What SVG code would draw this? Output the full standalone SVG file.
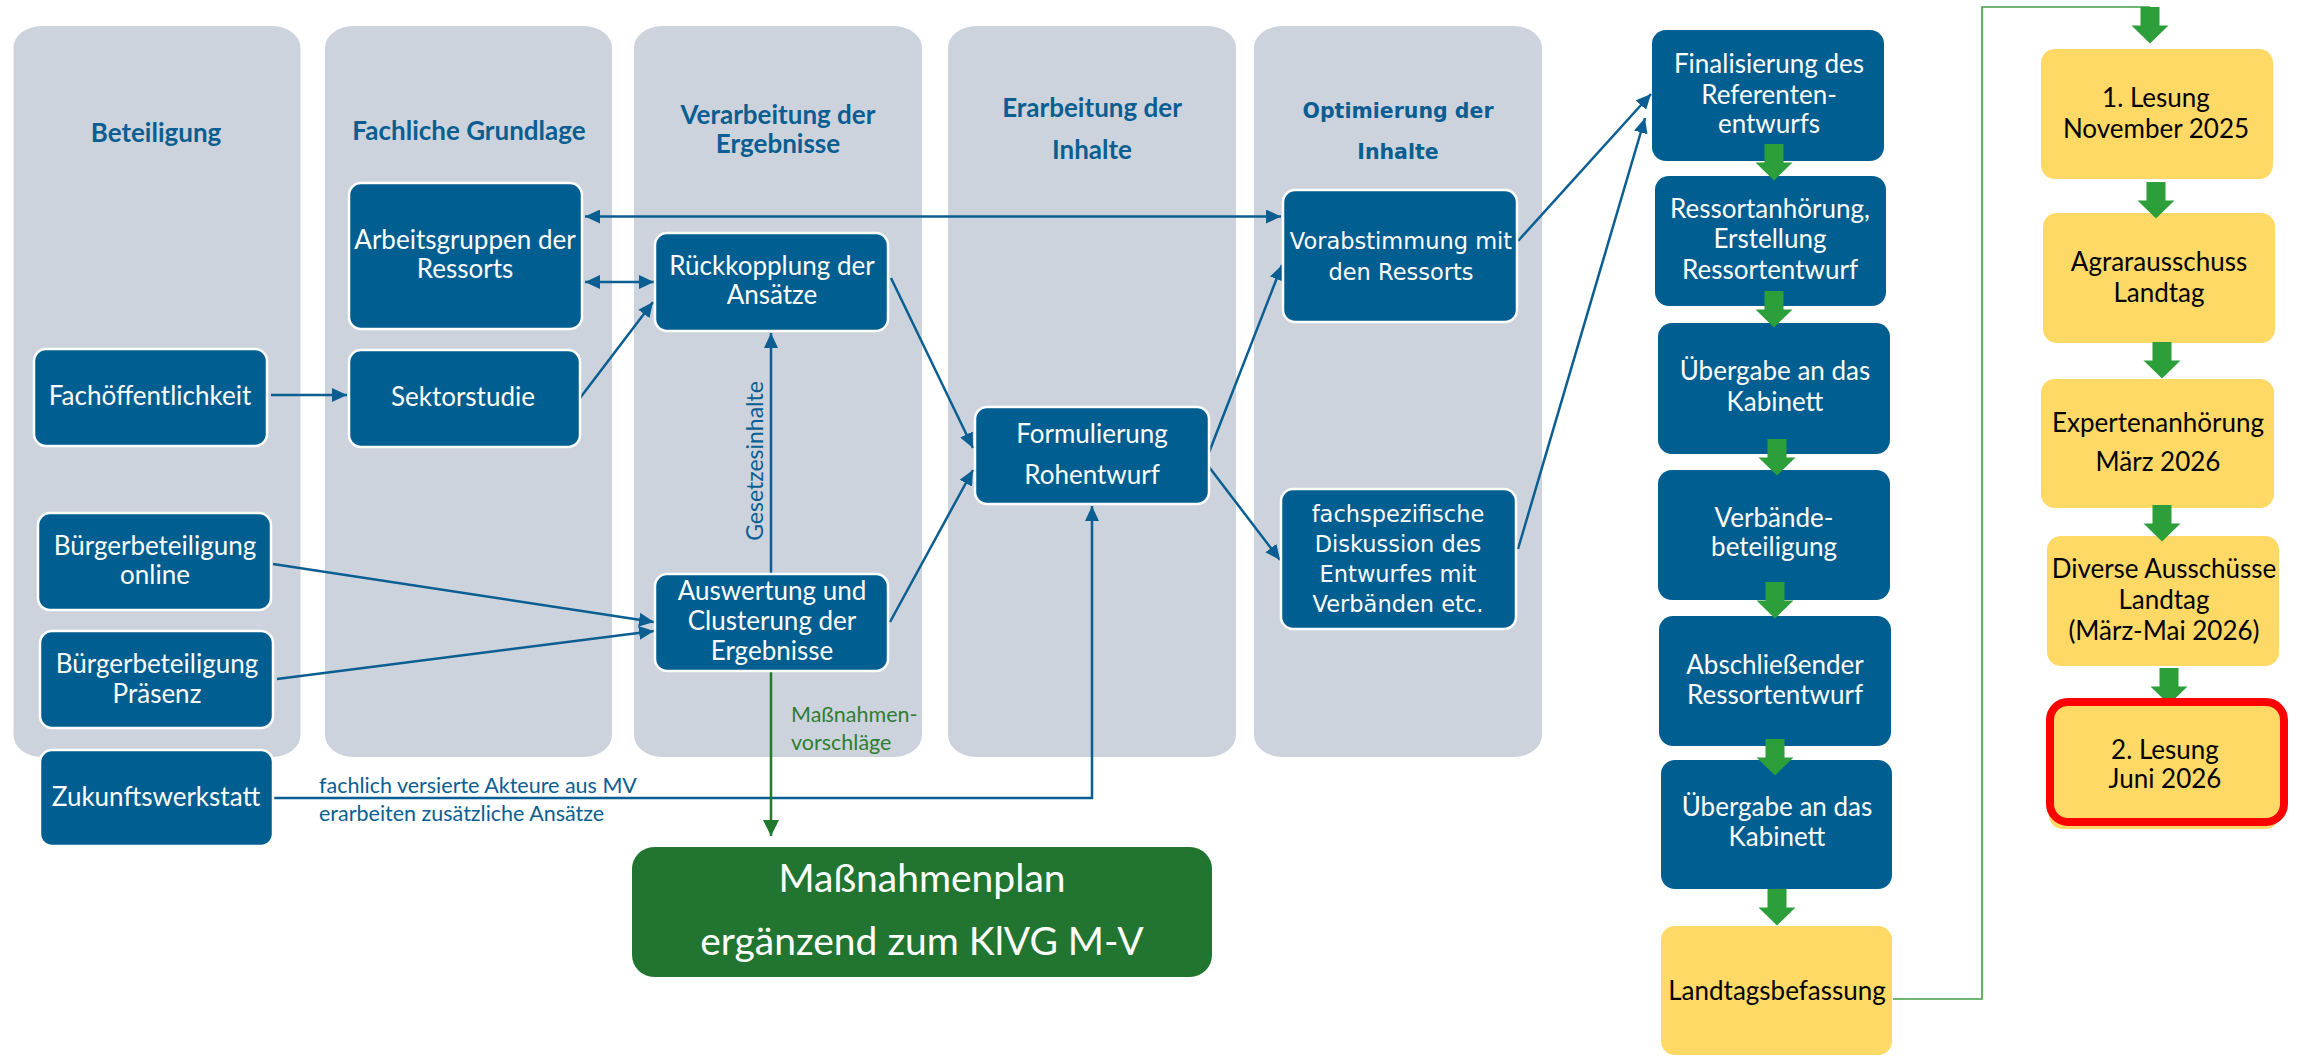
<svg xmlns="http://www.w3.org/2000/svg" width="2298" height="1059" viewBox="0 0 2298 1059">
<style>
.lane{fill:#CDD3DD}
.title{font-family:Lato,"Liberation Sans",sans-serif;font-weight:700;font-size:26px;fill:#0B5E91;text-anchor:middle}
.title2{font-family:"DejaVu Sans",sans-serif;font-weight:700;font-size:20.5px;fill:#0B5E91;text-anchor:middle}
.box{fill:#015E91;stroke:#fff;stroke-width:2.5}
.box2{fill:#015E91}
.yel{fill:#FFD966}
.t{font-family:Lato,"Liberation Sans",sans-serif;font-size:26px;fill:#fff;text-anchor:middle}
.tv{font-family:"DejaVu Sans",sans-serif;font-size:22.5px;fill:#fff;text-anchor:middle}
.tk{font-family:Lato,"Liberation Sans",sans-serif;font-size:26px;fill:#000;text-anchor:middle}
.big{font-family:Lato,"Liberation Sans",sans-serif;font-size:39px;fill:#fff;text-anchor:middle}
.conn{stroke:#0B5E91;stroke-width:2.5;fill:none}
.gconn{stroke:#217A2C;stroke-width:2.5;fill:none}
.thin{stroke:#3DA046;stroke-width:1.6;fill:none}
.lbl{font-family:Lato,"Liberation Sans",sans-serif;font-size:21.5px;fill:#0B5E91}
.glbl{font-family:Lato,"Liberation Sans",sans-serif;font-size:21.5px;fill:#2E7D32}
.blk{fill:#2C9E3A}
</style>
<defs>
<marker id="ah" viewBox="0 0 10 10" refX="10" refY="5" markerWidth="15" markerHeight="14" markerUnits="userSpaceOnUse" orient="auto-start-reverse" preserveAspectRatio="none"><path d="M0,0 L10,5 L0,10 z" fill="#0B5E91"/></marker>
<marker id="gh" viewBox="0 0 10 10" refX="10" refY="5" markerWidth="16" markerHeight="16" markerUnits="userSpaceOnUse" orient="auto" preserveAspectRatio="none"><path d="M0,0 L10,5 L0,10 z" fill="#217A2C"/></marker>
<path id="barrow" d="M-9.5,0 H9.5 V18.5 H18.5 L0,36.5 L-18.5,18.5 H-9.5 Z"/>
</defs>

<g id="lanes">
<rect class="lane" x="13.5" y="26" width="287" height="731" rx="28" ry="22"/>
<rect class="lane" x="325" y="26" width="287" height="731" rx="28" ry="22"/>
<rect class="lane" x="634" y="26" width="288" height="731" rx="28" ry="22"/>
<rect class="lane" x="948" y="26" width="288" height="731" rx="28" ry="22"/>
<rect class="lane" x="1254" y="26" width="288" height="731" rx="28" ry="22"/>
<text class="title" x="156" y="142">Beteiligung</text>
<text class="title" x="469" y="140">Fachliche Grundlage</text>
<text class="title" x="778" y="124">Verarbeitung der</text>
<text class="title" x="778" y="153">Ergebnisse</text>
<text class="title" x="1092" y="117">Erarbeitung der</text>
<text class="title" x="1092" y="159">Inhalte</text>
<text class="title2" x="1398" y="118">Optimierung der</text>
<text class="title2" x="1398" y="159">Inhalte</text>
</g>

<g id="connectors">
<line class="conn" x1="585" y1="216.5" x2="1281" y2="216.5" marker-start="url(#ah)" marker-end="url(#ah)"/>
<line class="conn" x1="585" y1="282" x2="654" y2="282" marker-start="url(#ah)" marker-end="url(#ah)"/>
<line class="conn" x1="271" y1="395" x2="347" y2="395" marker-end="url(#ah)"/>
<line class="conn" x1="580" y1="398" x2="653" y2="302" marker-end="url(#ah)"/>
<line class="conn" x1="273" y1="564" x2="654" y2="622" marker-end="url(#ah)"/>
<line class="conn" x1="277" y1="679" x2="654" y2="631" marker-end="url(#ah)"/>
<line class="conn" x1="771" y1="573" x2="771" y2="333" marker-end="url(#ah)"/>
<text class="lbl" transform="translate(763,461) rotate(-90)" text-anchor="middle" style="font-size:23px">Gesetzesinhalte</text>
<line class="conn" x1="891" y1="278" x2="973" y2="448" marker-end="url(#ah)"/>
<line class="conn" x1="890" y1="622" x2="973" y2="470" marker-end="url(#ah)"/>
<line class="conn" x1="1208" y1="455" x2="1282" y2="265" marker-end="url(#ah)"/>
<line class="conn" x1="1209" y1="467" x2="1280" y2="560" marker-end="url(#ah)"/>
<line class="conn" x1="1518" y1="241" x2="1651" y2="94" marker-end="url(#ah)"/>
<line class="conn" x1="1518" y1="549" x2="1645" y2="118" marker-end="url(#ah)"/>
<polyline class="conn" points="272,798 1092,798 1092,506" marker-end="url(#ah)"/>
<text class="lbl" x="319" y="793">fachlich versierte Akteure aus MV</text>
<text class="lbl" x="319" y="821">erarbeiten zusätzliche Ansätze</text>
<line class="gconn" x1="771" y1="672" x2="771" y2="836" marker-end="url(#gh)"/>
<text class="glbl" x="791" y="722">Maßnahmen-</text>
<text class="glbl" x="791" y="750">vorschläge</text>
<polyline class="thin" points="1893,999 1982,999 1982,7 2150,7"/>
</g>

<g id="n-arbeitsgruppen"><rect class="box" x="349" y="183" width="233" height="146" rx="12"/><text class="t" x="465" y="249">Arbeitsgruppen der</text><text class="t" x="465" y="278">Ressorts</text></g>
<g id="n-fachoeffentlichkeit"><rect class="box" x="34" y="349" width="233" height="97" rx="12"/><text class="t" x="150" y="405">Fachöffentlichkeit</text></g>
<g id="n-sektorstudie"><rect class="box" x="349" y="350" width="231" height="97" rx="12"/><text class="t" x="463" y="406">Sektorstudie</text></g>
<g id="n-online"><rect class="box" x="38" y="513" width="233" height="97" rx="12"/><text class="t" x="155" y="555">Bürgerbeteiligung</text><text class="t" x="155" y="584">online</text></g>
<g id="n-praesenz"><rect class="box" x="40" y="631" width="233" height="97" rx="12"/><text class="t" x="157" y="673">Bürgerbeteiligung</text><text class="t" x="157" y="703">Präsenz</text></g>
<g id="n-zukunft"><rect class="box" x="40" y="750" width="233" height="96" rx="12"/><text class="t" x="156" y="806">Zukunftswerkstatt</text></g>
<g id="n-rueckkopplung"><rect class="box" x="655" y="233" width="233" height="98" rx="12"/><text class="t" x="772" y="275">Rückkopplung der</text><text class="t" x="772" y="304">Ansätze</text></g>
<g id="n-auswertung"><rect class="box" x="655" y="574" width="233" height="97" rx="12"/><text class="t" x="772" y="600">Auswertung und</text><text class="t" x="772" y="630">Clusterung der</text><text class="t" x="772" y="660">Ergebnisse</text></g>
<g id="n-formulierung"><rect class="box" x="975" y="407" width="234" height="97" rx="12"/><text class="t" x="1092" y="443">Formulierung</text><text class="t" x="1092" y="484">Rohentwurf</text></g>
<g id="n-vorabstimmung"><rect class="box" x="1283" y="190" width="234" height="132" rx="12"/><text class="tv" x="1401" y="249">Vorabstimmung mit</text><text class="tv" x="1401" y="280">den Ressorts</text></g>
<g id="n-fachspezifisch"><rect class="box" x="1281" y="489" width="235" height="140" rx="12"/><text class="tv" x="1398" y="522">fachspezifische</text><text class="tv" x="1398" y="552">Diskussion des</text><text class="tv" x="1398" y="582">Entwurfes mit</text><text class="tv" x="1398" y="612">Verbänden etc.</text></g>
<g id="n-massnahmenplan"><rect x="632" y="847" width="580" height="130" rx="22" fill="#217530"/><text class="big" x="922" y="892">Maßnahmenplan</text><text class="big" x="922" y="955">ergänzend zum KlVG M-V</text></g>

<g id="n-finalisierung"><rect class="box2" x="1652" y="30" width="232" height="131" rx="14"/><text class="t" x="1769" y="73">Finalisierung des</text><text class="t" x="1769" y="104">Referenten-</text><text class="t" x="1769" y="133">entwurfs</text></g>
<g id="n-ressortanhoerung"><rect class="box2" x="1655" y="176" width="231" height="130" rx="14"/><text class="t" x="1770" y="218">Ressortanhörung,</text><text class="t" x="1770" y="248">Erstellung</text><text class="t" x="1770" y="279">Ressortentwurf</text></g>
<g id="n-uebergabe1"><rect class="box2" x="1658" y="323" width="232" height="131" rx="14"/><text class="t" x="1775" y="380">Übergabe an das</text><text class="t" x="1775" y="411">Kabinett</text></g>
<g id="n-verbaende"><rect class="box2" x="1658" y="470" width="232" height="130" rx="14"/><text class="t" x="1774" y="527">Verbände-</text><text class="t" x="1774" y="556">beteiligung</text></g>
<g id="n-abschliessend"><rect class="box2" x="1659" y="616" width="232" height="130" rx="14"/><text class="t" x="1775" y="674">Abschließender</text><text class="t" x="1775" y="704">Ressortentwurf</text></g>
<g id="n-uebergabe2"><rect class="box2" x="1661" y="760" width="231" height="129" rx="14"/><text class="t" x="1777" y="816">Übergabe an das</text><text class="t" x="1777" y="846">Kabinett</text></g>
<g id="n-landtagsbefassung"><rect class="yel" x="1661" y="926" width="231" height="129" rx="14"/><text class="tk" x="1777" y="1000">Landtagsbefassung</text></g>

<g id="n-lesung1"><rect class="yel" x="2041" y="49" width="232" height="130" rx="14"/><text class="tk" x="2156" y="107">1. Lesung</text><text class="tk" x="2156" y="138">November 2025</text></g>
<g id="n-agrar"><rect class="yel" x="2043" y="213" width="232" height="130" rx="14"/><text class="tk" x="2159" y="271">Agrarausschuss</text><text class="tk" x="2159" y="302">Landtag</text></g>
<g id="n-experten"><rect class="yel" x="2041" y="379" width="233" height="129" rx="14"/><text class="tk" x="2158" y="432">Expertenanhörung</text><text class="tk" x="2158" y="471">März 2026</text></g>
<g id="n-diverse"><rect class="yel" x="2047" y="536" width="232" height="130" rx="14"/><text class="tk" x="2164" y="578">Diverse Ausschüsse</text><text class="tk" x="2164" y="609">Landtag</text><text class="tk" x="2164" y="640">(März-Mai 2026)</text></g>

<g id="block-arrows">
<use href="#barrow" class="blk" x="1774" y="144"/>
<use href="#barrow" class="blk" x="1774" y="291"/>
<use href="#barrow" class="blk" x="1777" y="439"/>
<use href="#barrow" class="blk" x="1775" y="582"/>
<use href="#barrow" class="blk" x="1775" y="739"/>
<use href="#barrow" class="blk" x="1777" y="889"/>
<use href="#barrow" class="blk" x="2150" y="7"/>
<use href="#barrow" class="blk" x="2156" y="182"/>
<use href="#barrow" class="blk" x="2162" y="342"/>
<use href="#barrow" class="blk" x="2162" y="505"/>
<use href="#barrow" class="blk" x="2169" y="668"/>
</g>

<g id="n-lesung2"><rect class="yel" x="2049" y="700" width="230" height="129" rx="14"/><rect x="2050" y="702" width="234" height="120" rx="18" fill="#FFD966" stroke="#FF0000" stroke-width="8"/><text class="tk" x="2165" y="759">2. Lesung</text><text class="tk" x="2165" y="788">Juni 2026</text></g>
</svg>
